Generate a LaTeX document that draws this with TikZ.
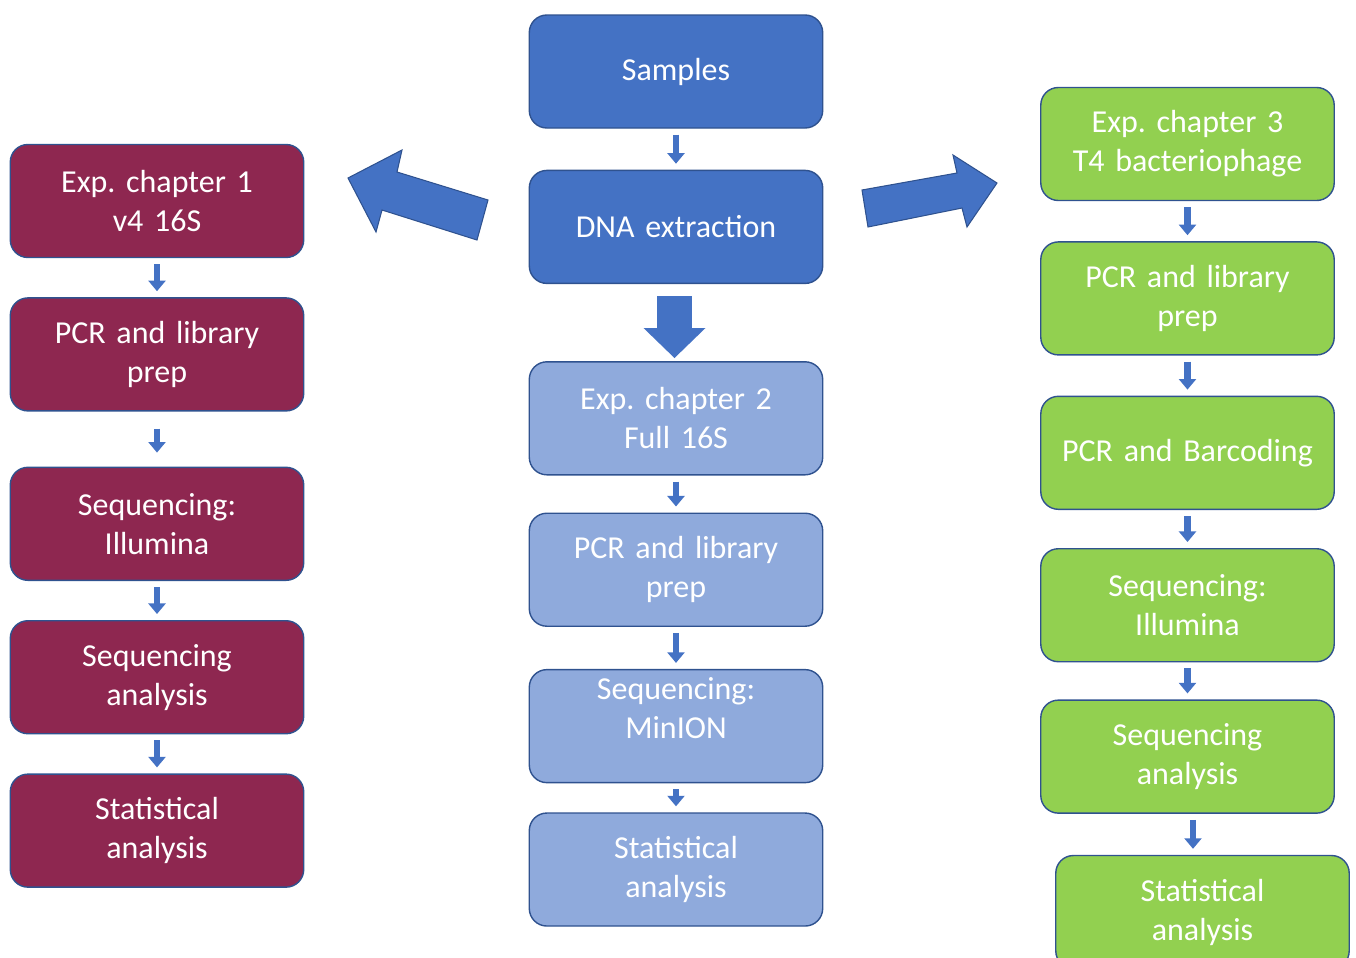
\documentclass[tikz,border=0pt]{standalone}
\usepackage{fontspec}
\setmainfont{Carlito}
\frenchspacing
\usepackage{tikz}
\usetikzlibrary{arrows.meta, positioning}
\definecolor{stepblue}{HTML}{4472C4}
\definecolor{lightblue}{HTML}{8FAADC}
\definecolor{chapred}{HTML}{8E2750}
\definecolor{chapgreen}{HTML}{92D050}
\definecolor{edgeblue}{HTML}{2F528F}

\begin{document}
\begin{tikzpicture}
    \tikzstyle{every node} = [font=\fontsize{9.1}{11.1}\selectfont, text=white]
    \tikzstyle{block} = [draw=edgeblue, line width=0.4pt, rectangle, rounded corners=5pt, minimum width=2.9cm, minimum height=1.13cm, text width=2.7cm, align=center]
    \tikzstyle{redblock} = [block, fill=chapred]
    \tikzstyle{darkblock} = [block, fill=stepblue]
    \tikzstyle{paleblock} = [block, fill=lightblue]
    \tikzstyle{greenblock} = [block, fill=chapgreen]
    \tikzstyle{flow} = [-{Triangle[width=4.8pt,length=3pt]}, line width=1.8pt, draw=stepblue, shorten <=0.06cm, shorten >=0.06cm]
    \tikzstyle{bigarrow} = [fill=stepblue, draw=edgeblue, line width=0.3pt]

    \useasboundingbox (0,0) rectangle (13.56,-9.58);
    \clip (0,0) rectangle (13.56,-9.58);

    % centre column
    \node[darkblock] (samples) at (6.76,-0.715) {Samples};
    \node[darkblock, below=0.41cm of samples] (dna) {DNA extraction};
    \node[paleblock, below=0.77cm of dna] (expTwo) {Exp. chapter 2\\Full 16S};
    \node[paleblock, below=0.37cm of expTwo] (pcrC) {PCR and library\\prep};
    \node[paleblock, below=0.42cm of pcrC,
          label={[align=center, yshift=0.185cm]center:{Sequencing:\\MinION}}] (seqC) {};
    \node[paleblock, below=0.29cm of seqC] (statC) {Statistical\\analysis};

    % left column
    \node[redblock] (expOne) at (1.57,-2.01) {Exp. chapter 1\\v4 16S};
    \node[redblock, below=0.39cm of expOne] (pcrL) {PCR and library\\prep};
    \node[redblock, below=0.55cm of pcrL] (seqL) {Sequencing:\\Illumina};
    \node[redblock, below=0.39cm of seqL] (seqanaL) {Sequencing\\analysis};
    \node[redblock, below=0.39cm of seqanaL] (statL) {Statistical\\analysis};

    % right column
    \node[greenblock] (expThree) at (11.875,-1.44) {Exp. chapter 3\\T4 bacteriophage};
    \node[greenblock, below=0.40cm of expThree] (pcrR) {PCR and library\\prep};
    \node[greenblock, below=0.40cm of pcrR] (barR) {PCR and Barcoding};
    \node[greenblock, below=0.38cm of barR] (seqR) {Sequencing:\\Illumina};
    \node[greenblock, below=0.37cm of seqR] (seqanaR) {Sequencing\\analysis};
    \node[greenblock, below=0.41cm of seqanaR, xshift=0.15cm] (statR) {Statistical\\analysis};

    % Connections
    \foreach \a/\b in {samples/dna, expTwo/pcrC, pcrC/seqC, seqC/statC,
                       expOne/pcrL, seqL/seqanaL, seqanaL/statL,
                       expThree/pcrR, pcrR/barR, barR/seqR, seqR/seqanaR}
        \draw[flow] (\a) -- (\b);
    \draw[flow, shorten <=0.17cm, shorten >=0.14cm] (pcrL) -- (seqL);
    \draw[flow] (seqanaR.south -| 11.93,0) -- (statR.north -| 11.93,0);

    \draw[-{Triangle[width=0.6cm,length=0.3cm]}, line width=0.35cm, draw=stepblue,
          shorten <=0.12cm, shorten >=0.03cm] (dna.south -| 6.745,0) -- (expTwo.north -| 6.745,0);

    % block arrows to the side chapters
    \draw[bigarrow] (3.48,-1.78) -- (4.02,-1.50) -- (3.97,-1.72) -- (4.88,-2.00)
        -- (4.77,-2.40) -- (3.82,-2.10) -- (3.76,-2.32) -- cycle;
    \draw[bigarrow] (8.62,-1.90) -- (9.57,-1.73) -- (9.53,-1.55) -- (9.97,-1.83)
        -- (9.67,-2.27) -- (9.62,-2.08) -- (8.68,-2.27) -- cycle;
\end{tikzpicture}
\end{document}
